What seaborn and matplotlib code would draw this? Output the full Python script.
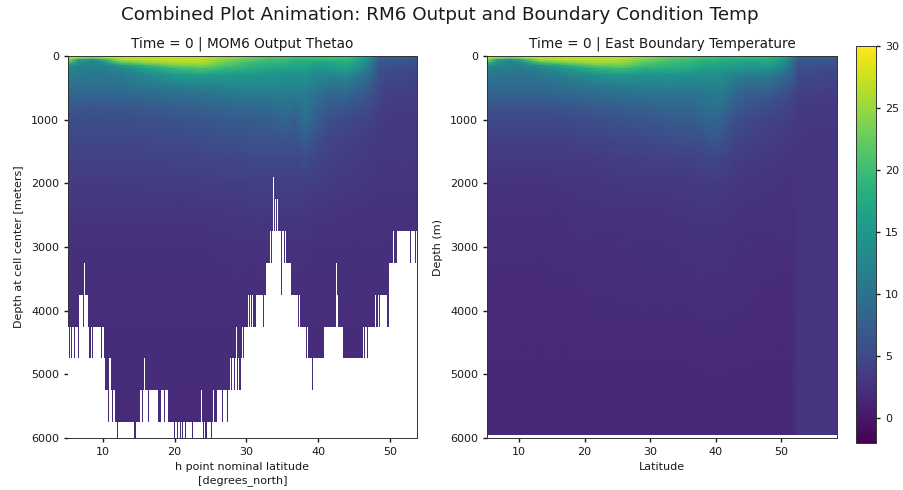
import matplotlib
matplotlib.use("Agg")
import matplotlib.pyplot as plt
import numpy as np
import seaborn as sns

# latitudes of the sampled columns (both panels share the same columns)
lat_model = [5.15, 6.6, 8.6, 10, 12.4, 15.9, 19.7, 23.6, 27, 30.4, 33.4, 35.3, 36.8,
             38.2, 39.7, 41.6, 44.1, 46, 47.5, 48.5, 49.9, 53.8]
lat_boundary = [5.1, 6.7, 8.8, 10.4, 13.1, 16.9, 21.1, 25.4, 29.1, 32.9, 36.1, 38.2, 39.8,
                41.4, 43, 45.2, 47.8, 50, 51.6, 52.6, 54.2, 58.5]
depth_model = [0, 30, 60, 100, 150, 200, 300, 450, 600, 800, 1000, 1300, 1600, 2000,
               2500, 3000, 4000, 5000, 6000]
depth_boundary = [0, 30, 60, 100, 150, 200, 300, 450, 600, 800, 1000, 1300, 1600, 2000,
                  2500, 3000, 4000, 5000, 5945]

# temperature, one row per depth
thetao = [
    [27.5, 27, 27, 27.5, 27.5, 27.5, 27.5, 27.5, 25.5, 24, 22, 22, 21, 21, 21, 21, 21, 18, 14, 8, 8, 7],
    [27, 26, 24, 26, 27, 27, 27.5, 27, 25, 23, 21, 21, 20, 20, 20, 20, 20, 17, 13, 8, 7.5, 7],
    [25, 16, 14, 18, 26, 26.5, 27, 27, 24, 22, 20, 20, 19, 19, 19, 19, 19, 16, 12, 7.5, 7, 6.5],
    [21, 14, 12.5, 14, 22, 25, 26, 26.5, 23, 20, 19, 19, 18, 18, 17, 17, 18, 15, 11, 7, 6.5, 6],
    [14, 12.5, 12, 12.5, 15, 19, 23, 24, 21, 19, 18, 17.5, 17, 17, 16, 16, 17, 14, 10, 6.5, 6, 5.5],
    [12.5, 12, 11.5, 11.5, 13, 16, 19, 21, 19, 18, 17, 16.5, 16, 16, 15, 15, 16, 13, 9.5, 6, 5.5, 5],
    [11, 11, 10.5, 10.5, 11, 13, 15, 16, 15, 15, 14.5, 14, 14, 14.5, 13, 12.5, 13, 10.5, 8.5, 5.5, 5, 4.5],
    [10, 10, 10, 10, 10, 11, 12, 12.5, 13, 13, 13, 13, 13, 13, 11.5, 10.5, 10.5, 8.5, 7, 5, 4.5, 4],
    [8.5, 8.5, 8.5, 8.5, 8.5, 9, 9.5, 10, 10.5, 11, 11, 11.5, 11, 11.5, 10, 8.5, 8.5, 7, 6, 4.5, 4, 3.8],
    [6.5, 6.5, 6.5, 6.5, 6.5, 7, 7.5, 8, 8.5, 9, 9, 10, 9, 10.5, 8.5, 7, 6.5, 5.5, 5, 4, 3.5, 3.5],
    [5.5, 5.5, 5.5, 5.5, 5.5, 5.8, 6.2, 6.5, 7, 7.2, 7.5, 8.5, 7.5, 9.5, 7.5, 5.8, 5, 4.5, 4.2, 3.6, 3.3, 3.3],
    [4.8, 4.8, 4.8, 4.8, 4.8, 5, 5.2, 5.4, 5.8, 6, 6, 6.5, 6, 7.5, 5.8, 4.7, 4.2, 3.8, 3.6, 3.3, 3.1, 3.1],
    [4.2, 4.2, 4.2, 4.2, 4.2, 4.3, 4.4, 4.6, 4.8, 5, 5, 5.2, 5, 5.5, 4.6, 4, 3.7, 3.4, 3.3, 3.1, 3, 3],
    [3.4, 3.4, 3.4, 3.4, 3.4, 3.5, 3.6, 3.7, 3.8, 3.9, 3.9, 3.9, 3.9, 4, 3.7, 3.4, 3.2, 3, 2.9, 2.8, 2.8, 2.8],
    [2.8, 2.8, 2.8, 2.8, 2.8, 2.8, 2.8, 2.9, 2.9, 3, 3, 3, 3, 3, 2.9, 2.8, 2.7, 2.6, 2.6, 2.6, 2.6, 2.6],
    [2.4, 2.4, 2.4, 2.4, 2.4, 2.4, 2.4, 2.4, 2.5, 2.5, 2.5, 2.5, 2.5, 2.5, 2.4, 2.4, 2.4, 2.4, 2.4, 2.4, 2.4, 2.4],
    [2, 2, 2, 2, 2, 2, 2, 2, 2, 2, 2, 2, 2, 2, 2, 2, 2, 2, 2, 2.1, 2.1, 2.1],
    [1.9, 1.9, 1.9, 1.9, 1.9, 1.9, 1.9, 1.9, 1.9, 1.9, 1.9, 1.9, 1.9, 1.9, 1.9, 1.9, 1.9, 1.9, 1.9, 2, 2, 2],
    [1.8, 1.8, 1.8, 1.8, 1.8, 1.8, 1.8, 1.8, 1.8, 1.8, 1.8, 1.8, 1.8, 1.8, 1.8, 1.8, 1.8, 1.8, 1.8, 1.9, 1.9, 1.9],
]
boundary_temp = [
    [27.5, 27, 27, 27.5, 27.5, 27.5, 27.5, 27, 25, 23, 22, 21, 21, 20, 20, 20, 20, 18, 13, 8, 7.5, 7],
    [27, 26, 24, 26, 27, 27, 27, 26.5, 24.5, 22, 21, 20, 20, 19, 19, 19, 19, 17, 12, 7.5, 7.5, 7],
    [25, 16, 14, 18, 26, 26.5, 26.5, 26, 23.5, 21, 20, 19, 19, 18, 18, 18, 18, 16, 11, 7, 7, 6.5],
    [20, 14, 12.5, 14, 21, 24, 25.5, 25, 22, 20, 19, 18, 18, 17, 17, 16, 17, 15, 10, 6.5, 6.5, 6],
    [14, 12.5, 12, 12.5, 14, 18, 22, 23, 20, 19, 18, 17, 17, 16, 16, 15, 16, 13.5, 9.5, 6, 6, 5.5],
    [12.5, 11.5, 11, 11, 12.5, 15, 18, 20, 18, 18, 17, 16, 16, 15, 15, 14, 14.5, 12, 9, 5.5, 5.5, 5],
    [10.5, 10.5, 10, 10, 10.5, 12, 14, 15, 14.5, 14.5, 14, 13.5, 14, 13, 12, 11, 11.5, 9.5, 8, 5, 5, 4.5],
    [9.5, 9, 9, 9, 9, 10, 11, 12, 12, 12.5, 12, 12, 12.5, 12, 10, 9, 9, 7.5, 6.5, 4.5, 4.2, 4],
    [8, 8, 8, 8, 8, 8.5, 9, 9.5, 10, 10, 10, 10.5, 11, 10.5, 8.5, 7.5, 7, 6, 5, 4, 3.8, 3.6],
    [6, 6, 6, 6, 6, 6.5, 7, 7.5, 8, 8.5, 8.5, 9.5, 10, 9, 7, 6, 5.5, 4.8, 4.2, 3.5, 3.3, 3.2],
    [5, 5, 5, 5, 5, 5.2, 5.6, 6, 6.5, 7, 7, 8, 8.5, 7.5, 5.8, 5, 4.5, 4, 3.7, 3.2, 3, 3],
    [4, 4, 4, 4, 4, 4.2, 4.5, 4.8, 5.2, 5.5, 5.5, 6, 6.8, 5.8, 4.6, 4.2, 3.8, 3.4, 3.2, 3, 2.9, 2.9],
    [3.3, 3.3, 3.3, 3.3, 3.3, 3.4, 3.6, 3.8, 4, 4.2, 4.3, 4.5, 4.8, 4.4, 3.8, 3.5, 3.2, 3, 2.9, 2.8, 2.8, 2.8],
    [2.7, 2.7, 2.7, 2.7, 2.7, 2.8, 2.9, 3, 3.1, 3.2, 3.3, 3.4, 3.5, 3.4, 3.1, 2.9, 2.8, 2.7, 2.6, 2.8, 2.8, 2.8],
    [2.3, 2.3, 2.3, 2.3, 2.3, 2.4, 2.5, 2.6, 2.6, 2.7, 2.8, 2.8, 2.8, 2.8, 2.7, 2.6, 2.5, 2.5, 2.4, 2.8, 2.8, 2.8],
    [2.1, 2.1, 2.1, 2.1, 2.1, 2.2, 2.3, 2.3, 2.4, 2.4, 2.5, 2.5, 2.5, 2.5, 2.4, 2.3, 2.3, 2.2, 2.2, 2.8, 2.8, 2.8],
    [1.8, 1.8, 1.8, 1.8, 1.8, 1.8, 1.9, 1.9, 1.9, 1.9, 1.9, 2, 2, 2, 1.9, 1.9, 1.8, 1.8, 1.8, 2.8, 2.8, 2.8],
    [1.7, 1.7, 1.7, 1.7, 1.7, 1.7, 1.7, 1.7, 1.7, 1.7, 1.7, 1.7, 1.7, 1.7, 1.7, 1.7, 1.7, 1.7, 1.7, 2.8, 2.8, 2.8],
    [1.7, 1.7, 1.7, 1.7, 1.7, 1.7, 1.7, 1.7, 1.7, 1.7, 1.7, 1.7, 1.7, 1.7, 1.7, 1.7, 1.7, 1.7, 1.7, 2.8, 2.8, 2.8],
]

# sea floor of the model panel: bottom depth starting at each latitude
floor_lat = [5.15, 5.34, 5.43, 5.62, 5.71, 5.99, 6.08, 6.55, 6.64, 6.74, 7.3, 7.39, 7.53, 7.95,
             8.09, 8.18, 8.27, 8.37, 8.55, 8.69, 8.88, 8.97, 9.81, 9.91, 10.14, 10.33, 10.56,
             10.65, 10.75, 10.84, 10.89, 11.12, 11.31, 11.4, 11.68, 12.0, 12.14, 14.38, 14.57,
             15.22, 15.45, 15.55, 15.73, 15.83, 16.34, 16.48, 17.74, 18.07, 18.2, 18.3, 18.49,
             18.62, 19.09, 19.88, 20.02, 20.35, 20.49, 20.72, 20.86, 21.05, 21.19, 21.42, 21.56,
             22.4, 22.54, 23.66, 23.8, 23.94, 24.08, 24.31, 24.5, 24.78, 24.87, 25.1, 25.24,
             25.38, 25.52, 25.99, 26.6, 26.74, 27.25, 27.39, 27.72, 27.9, 28.04, 28.28, 28.42,
             28.55, 28.69, 28.83, 29.02, 29.21, 29.4, 29.53, 29.72, 30.23, 30.33, 30.51, 30.6,
             30.79, 30.89, 31.31, 32.28, 32.47, 32.78, 33.24, 33.47, 33.61, 33.75, 33.85, 33.99,
             34.08, 34.22, 34.45, 34.82, 34.9, 35.0, 35.2, 35.38, 35.47, 36.3, 37.23, 37.37,
             37.5, 38.3, 38.44, 38.58, 39.23, 39.37, 40.77, 42.45, 42.54, 42.68, 42.82, 43.47,
             46.27, 46.37, 46.5, 46.78, 46.97, 47.95, 48.09, 48.32, 48.5, 48.6, 49.63, 49.84,
             50.45, 50.59, 51.0, 52.77, 52.96, 53.47, 53.61, 53.8]
floor_depth = [4250, 4750, 4250, 4750, 4250, 4750, 4250, 4750, 4250, 3750, 4250, 3250, 3750, 4250,
               4750, 5250, 4750, 4250, 4750, 4250, 4750, 4250, 4750, 4250, 4750, 5250, 5750,
               5250, 5750, 5250, 4750, 5250, 5750, 5250, 5750, 6000, 5750, 6000, 5750,
               5250, 5750, 5250, 4750, 5250, 5750, 5250, 5750, 5250, 6000, 5250, 5750,
               5250, 5750, 6000, 5750, 6000, 5750, 6000, 5750, 6000, 5750, 6000, 5750,
               6000, 5750, 5250, 5750, 6000, 5750, 6000, 5750, 6000, 5750, 6000, 5750,
               5250, 5750, 5250, 5750, 5250, 5750, 5250, 4750, 5250, 4750, 5250, 4750,
               4250, 5250, 4750, 5250, 4750, 4250, 4750, 4250, 3750, 4250, 3750, 4250,
               3750, 4250, 3750, 4250, 3750, 3250, 2750, 3250, 2750, 1900, 2750, 2250,
               2750, 2250, 2750, 3250, 3750, 2750, 3250, 2750, 3250, 3750, 4250, 3750,
               4250, 4750, 4250, 4750, 5250, 4750, 4250, 3750, 3250, 3750, 4250, 4750,
               4250, 4750, 4250, 4750, 4250, 3750, 4250, 3750, 4250, 3750, 4250, 3250,
               2750, 3250, 2750, 3250, 2750, 3250, 2750, 2750]

model_ticks = [10, 20, 30, 40, 50]
depth_ticks = [0, 1000, 2000, 3000, 4000, 5000, 6000]
cbar_ticks = [0, 5, 10, 15, 20, 25, 30]

sns.set_theme(style="ticks", context="paper", font="DejaVu Sans",
              rc={"axes.labelsize": 8, "xtick.labelsize": 8, "ytick.labelsize": 8,
                  "axes.titlesize": 9.8, "axes.linewidth": 0.7, "text.color": "#1a1a1a",
                  "axes.labelcolor": "#1a1a1a", "xtick.color": "#1a1a1a", "ytick.color": "#1a1a1a",
                  "axes.edgecolor": "#333333", "xtick.major.size": 2.8, "ytick.major.size": 2.8})
viridis = sns.color_palette("viridis", as_cmap=True)

fig = plt.figure(figsize=(9.04, 4.9), dpi=100)
W, H = 904.0, 490.0
ax1 = fig.add_axes([68 / W, 1 - 438 / H, 349 / W, 382 / H])
ax2 = fig.add_axes([487 / W, 1 - 438 / H, 350 / W, 382 / H])
cax = fig.add_axes([856 / W, 1 - 443 / H, 20 / W, 397 / H])

lon1, dep1 = np.meshgrid(lat_model, depth_model)
mesh = ax1.pcolormesh(lon1, dep1, np.array(thetao), cmap=viridis, vmin=-2, vmax=30, shading="gouraud")
# white below the sea floor
ax1.fill_between(floor_lat, floor_depth, 6000, step="post", color="white", lw=0, zorder=3)
ax1.set_xlim(lat_model[0], lat_model[-1])
ax1.set_ylim(6000, 0)
ax1.set_yticks(depth_ticks)
ax1.set_xticks(model_ticks)
ax1.set_xlabel("h point nominal latitude\n[degrees_north]", linespacing=1.35)
ax1.set_ylabel("Depth at cell center [meters]")
ax1.yaxis.set_label_coords(-0.125, 0.5)
ax1.set_title("Time = 0 | MOM6 Output Thetao", pad=6)

lon2, dep2 = np.meshgrid(lat_boundary, depth_boundary)
ax2.pcolormesh(lon2, dep2, np.array(boundary_temp), cmap=viridis, vmin=-2, vmax=30, shading="gouraud")
ax2.set_xlim(lat_boundary[0], lat_boundary[-1])
ax2.set_ylim(6000, 0)
ax2.set_yticks(depth_ticks)
ax2.set_xticks(model_ticks)
ax2.set_xlabel("Latitude")
ax2.set_ylabel("Depth (m)")
ax2.yaxis.set_label_coords(-0.125, 0.5)
ax2.set_title("Time = 0 | East Boundary Temperature", pad=6)

cbar = fig.colorbar(mesh, cax=cax)
cbar.set_ticks(cbar_ticks)

fig.suptitle("Combined Plot Animation: RM6 Output and Boundary Condition Temp",
             x=440 / W, y=1 - 15 / H, va="center", fontsize=13.2)

fig.savefig("out.png", dpi=100)
